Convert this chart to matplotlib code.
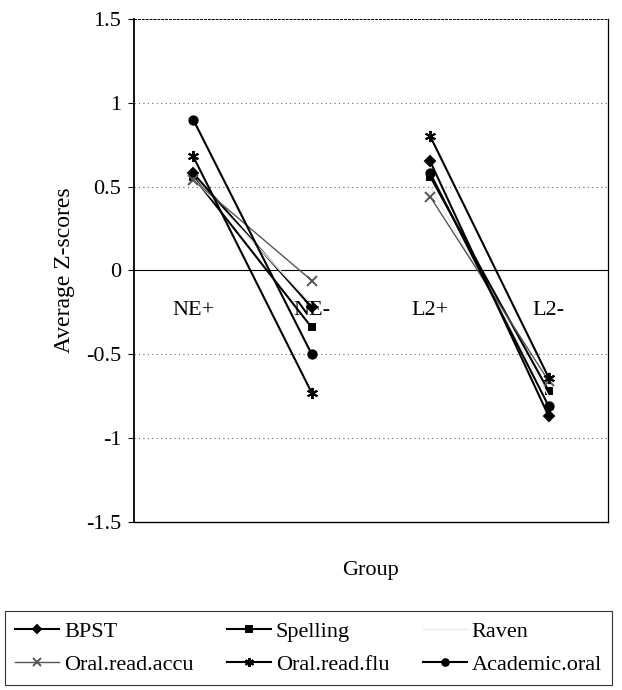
import matplotlib
matplotlib.use("Agg")
import matplotlib.pyplot as plt
import numpy as np

plt.rcParams['font.family'] = ['Liberation Serif', 'DejaVu Serif']

groups = ["NE+", "NE-", "L2+", "L2-"]
series_names = ["BPST", "Spelling", "Raven", "Oral.read.accu", "Oral.read.flu", "Academic.oral"]
bpst = [0.58, -0.22, 0.65, -0.87]
spelling = [0.56, -0.34, 0.56, -0.72]
raven = [0.55, -0.20, 0.50, -0.75]
oral_read_accu = [0.54, -0.06, 0.44, -0.66]
oral_read_flu = [0.68, -0.73, 0.80, -0.64]
academic_oral = [0.90, -0.50, 0.58, -0.81]
values = [bpst, spelling, raven, oral_read_accu, oral_read_flu, academic_oral]

styles = {
    "BPST": dict(color="black", marker="D", ms=5, lw=1.5),
    "Spelling": dict(color="black", marker="s", ms=5, lw=1.5),
    "Raven": dict(color="#e8e8e8", marker=None, ms=0, lw=1.0),
    "Oral.read.accu": dict(color="#555555", marker="x", ms=7, lw=1.0),
    "Oral.read.flu": dict(color="black", marker=(6, 2, 0), ms=8, lw=1.5),
    "Academic.oral": dict(color="black", marker="o", ms=6, lw=1.5),
}

fig = plt.figure(figsize=(6.22, 6.9), dpi=100)
ax = fig.add_axes([0.2154, 0.2435, 0.7621, 0.729])

x = np.arange(len(groups))
handles = {}
for name, vals in zip(series_names, values):
    st = styles[name]
    kw = dict(color=st["color"], lw=st["lw"], marker=st["marker"], ms=st["ms"],
              mec=st["color"], mfc=st["color"], mew=1.4)
    h, = ax.plot(x[:2], vals[:2], label=name, **kw)
    ax.plot(x[2:], vals[2:], **kw)
    handles[name] = h

ax.set_xlim(-0.5, 3.5)
ax.set_ylim(-1.5, 1.5)
ax.set_yticks([-1.5, -1, -0.5, 0, 0.5, 1, 1.5])
ax.set_yticklabels(["-1.5", "-1", "-0.5", "0", "0.5", "1", "1.5"], fontsize=16)
ax.set_xticks([])
for yv in [-1, -0.5, 0.5, 1]:
    ax.axhline(yv, color="#666666", lw=0.8, ls=(0, (1, 3)), zorder=0)
ax.axhline(0, color="black", lw=0.8, zorder=0)
for i, g in enumerate(groups):
    ax.text(i, -0.24, g, ha="center", va="center", fontsize=16)

ax.spines['left'].set_linewidth(1.3)
ax.spines['bottom'].set_linewidth(1.0)
ax.spines['top'].set_linestyle((0, (2, 2)))
ax.spines['top'].set_linewidth(0.7)
ax.spines['right'].set_linewidth(0.9)
ax.tick_params(axis='y', direction='out', length=4, width=0.8, pad=5)

ax.set_ylabel("Average Z-scores", fontsize=17, labelpad=8)
ax.set_xlabel("Group", fontsize=16, labelpad=28)

order = ["BPST", "Oral.read.accu", "Spelling", "Oral.read.flu", "Raven", "Academic.oral"]
leg = fig.legend([handles[n] for n in order], order, loc="center", ncol=3, mode="expand",
                 bbox_to_anchor=(5 / 622, 4 / 690, 607 / 622, 76 / 690), fontsize=16,
                 frameon=True, fancybox=False, edgecolor="black", handlelength=2.0,
                 handletextpad=0.2, borderaxespad=0, columnspacing=0.5,
                 labelspacing=0.55, borderpad=0.45, markerscale=0.8)
leg.get_frame().set_linewidth(0.8)

fig.savefig("out.png", dpi=100)
